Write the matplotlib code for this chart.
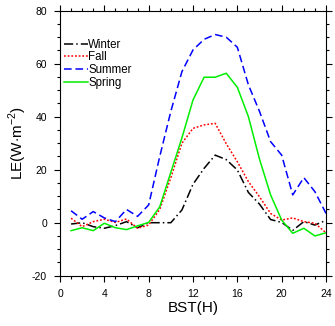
import matplotlib
matplotlib.use("Agg")
import matplotlib.pyplot as plt
from matplotlib.ticker import MultipleLocator

plt.rcParams['font.family'] = ['Liberation Sans', 'DejaVu Sans']
plt.rcParams['mathtext.fontset'] = 'custom'
plt.rcParams['mathtext.rm'] = 'Liberation Sans'
plt.rcParams['axes.unicode_minus'] = False

hours = list(range(1, 25))
winter = [-0.5, 0, -1.5, -2.1, -1.1, 0.4, -1.9, 0, 0, 0, 4.8, 14.5, 20.5, 25.5,
          23.8, 19.9, 11.4, 7.0, 1.2, 0.1, -2.9, 0.4, -0.9, 0.9]
fall = [1.7, -1.5, 0.4, 1.3, 0.1, 1.4, -2.1, -0.9, 5, 17, 30, 35.6, 36.9, 37.5,
        29.8, 23.0, 15.5, 9.8, 3.5, 1.0, 1.8, 0.4, -0.2, -3.8]
summer = [4.5, 1.3, 4.2, 1.8, 0.4, 5.0, 2.4, 6.7, 25, 42, 57, 65.2, 69.2, 71,
          70, 66.2, 52, 42, 30.6, 25.5, 10.5, 17.0, 11.7, 3.5]
spring = [-3, -1.9, -3, -0.2, -1.9, -2.6, -1.2, 0.1, 6, 19, 32, 46.3, 54.9, 54.9,
          56.4, 51.1, 40, 24, 10.5, 1.0, -4, -2.1, -5, -3.8]

fig = plt.figure(figsize=(3.35, 3.26), dpi=100)
ax = fig.add_axes([60/335, 1-275.7/326, 266/335, 265/326])

lw = 1.1
ax.plot(hours, winter, color='black', ls=(0, (6, 2, 1, 2)), lw=lw, label='Winter')
ax.plot(hours, fall, color='red', ls=(0, (1.2, 1.2)), lw=lw, label='Fall')
ax.plot(hours, summer, color='#0000ff', ls=(0, (5, 2.5)), lw=lw, label='Summer')
ax.plot(hours, spring, color='#00ee00', ls='-', lw=lw, label='Spring')

ax.set_xlim(0, 24)
ax.set_ylim(-20, 80)
ax.xaxis.set_major_locator(MultipleLocator(4))
ax.xaxis.set_minor_locator(MultipleLocator(1))
ax.yaxis.set_major_locator(MultipleLocator(20))
ax.yaxis.set_minor_locator(MultipleLocator(5))
ax.tick_params(which='both', direction='out', top=True, right=True,
               labelsize=7.5, width=0.8, pad=5)
ax.tick_params(which='major', length=4.3)
ax.tick_params(which='minor', length=2.4)
for s in ax.spines.values():
    s.set_linewidth(0.8)

ax.set_xlabel('BST(H)', fontsize=11, labelpad=2)
ax.set_ylabel('LE(W$\\cdot$m$^{-2}$)', fontsize=11, labelpad=2)

leg = ax.legend(loc='upper left', bbox_to_anchor=(0.015, 0.894), frameon=False,
                fontsize=8.3, handlelength=2.1, handletextpad=0.0,
                labelspacing=0.06, borderaxespad=0.0, borderpad=0.0)

fig.savefig('out.png', dpi=100)
